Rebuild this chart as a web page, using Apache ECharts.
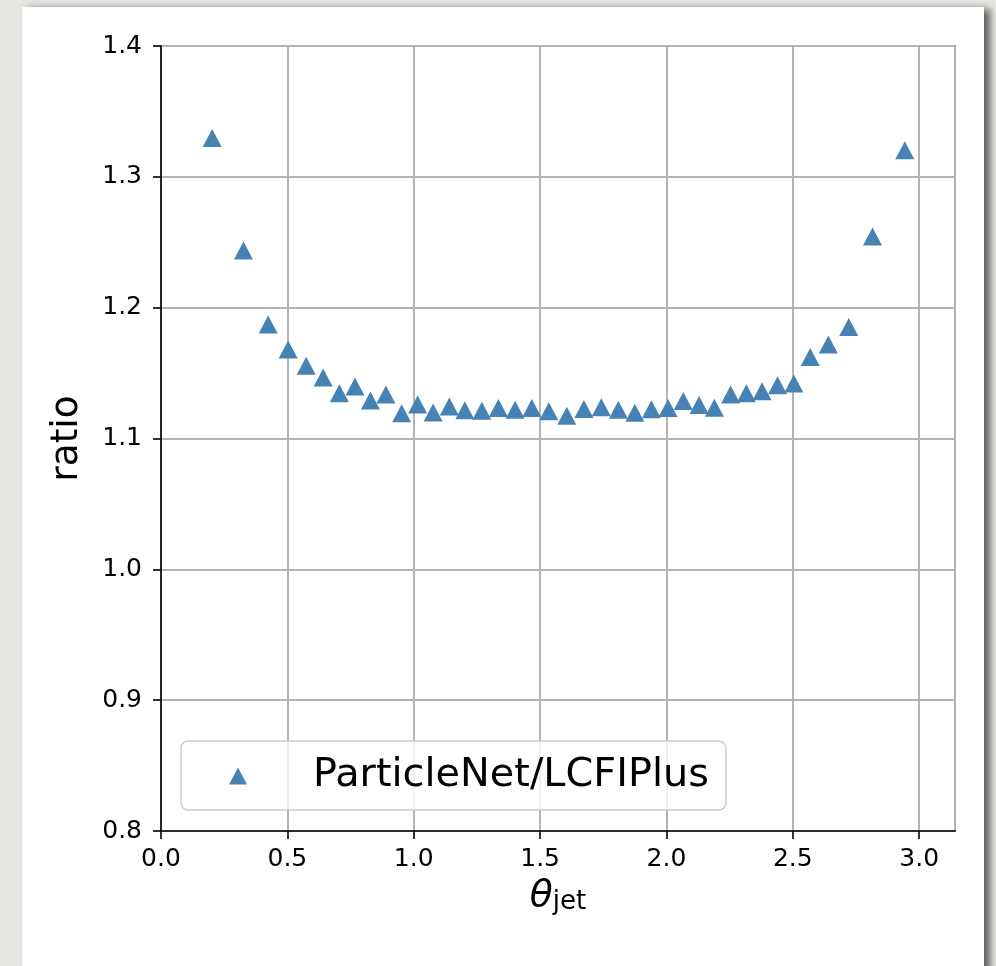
<!DOCTYPE html>
<html>
<head>
<meta charset="utf-8">
<script src="https://cdn.jsdelivr.net/npm/echarts@6/dist/echarts.min.js"></script>
<style>
  html, body { margin: 0; padding: 0; }
  body { width: 996px; height: 966px; background: #e9e7e3; position: relative; overflow: hidden; }
  #card { position: absolute; left: 22px; top: 7px; width: 962px; height: 980px; background: #ffffff;
          box-shadow: 6px 2px 8px rgba(0,0,0,0.6); }
  #chart { position: absolute; left: 0; top: 0; width: 996px; height: 966px; }
</style>
</head>
<body>
<div id="card"></div>
<div id="chart"></div>
<script>
const seriesName = 'ParticleNet/LCFIPlus';
const thetaValues = [0.2025,0.3263,0.4241,0.5032,0.5744,0.6416,0.7057,0.7674,0.8287,0.8900,
  0.9521,1.0154,1.0767,1.1408,1.2021,1.2694,1.3350,1.4011,1.4672,1.5344,
  1.6056,1.6733,1.7421,1.8097,1.8746,1.9403,2.0063,2.0665,2.1290,2.1895,
  2.2536,2.3161,2.3782,2.4395,2.5040,2.5688,2.6404,2.7211,2.8153,2.9430];
const ratioValues = [1.3296,1.2437,1.1872,1.1680,1.1557,1.1467,1.1345,1.1398,1.1290,1.1337,
  1.1193,1.1260,1.1199,1.1245,1.1215,1.1213,1.1233,1.1219,1.1234,1.1209,
  1.1174,1.1226,1.1238,1.1219,1.1197,1.1224,1.1234,1.1287,1.1257,1.1235,
  1.1336,1.1345,1.1362,1.1407,1.1420,1.1623,1.1719,1.1852,1.2543,1.3204];
const xAxisRange = [0, Math.PI];
const yAxisRange = [0.8, 1.4];

const chart = echarts.init(document.getElementById('chart'), null, {renderer: 'canvas'});
const font = 'DejaVu Sans';
const points = thetaValues.map((x, i) => [x, ratioValues[i]]);

chart.setOption({
  backgroundColor: 'transparent',
  animation: false,
  textStyle: { fontFamily: font },
  grid: { left: 161, top: 46, right: 41, bottom: 135, show: true, borderColor: '#000', borderWidth: 1.6, backgroundColor: 'transparent' },
  legend: {
    left: 181, top: 741,
    orient: 'vertical',
    backgroundColor: 'rgba(255,255,255,0.8)',
    borderColor: '#cccccc', borderWidth: 1.5, borderRadius: 7,
    padding: [15, 17, 14, 48],
    itemWidth: 18, itemHeight: 17,
    icon: 'triangle',
    textStyle: { fontFamily: font, fontSize: 39.8, color: '#000', lineHeight: 40, padding: [0, 0, 0, 61] },
    data: [seriesName]
  },
  xAxis: {
    type: 'value', min: xAxisRange[0], max: xAxisRange[1], interval: 0.5,
    name: '{t|θ}{s|jet}', nameLocation: 'middle', nameGap: 33,
    nameTextStyle: {
      rich: {
        t: { fontFamily: font, fontStyle: 'italic', fontSize: 37.5, color: '#000', verticalAlign: 'top', lineHeight: 38, padding: [0, 0, 12, 0] },
        s: { fontFamily: font, fontSize: 26, color: '#000', verticalAlign: 'bottom', lineHeight: 26 }
      }
    },
    axisLine: { show: true, onZero: false, lineStyle: { color: '#000', width: 1.6 } },
    axisTick: { show: true, length: 8, lineStyle: { color: '#000', width: 1.6 } },
    axisLabel: { fontFamily: font, fontSize: 25, color: '#000', margin: 16, showMaxLabel: false,
      formatter: v => v.toFixed(1) },
    splitLine: { show: true, lineStyle: { color: '#b4b4b4', width: 2 } }
  },
  yAxis: {
    type: 'value', min: yAxisRange[0], max: yAxisRange[1], interval: 0.1,
    name: 'ratio', nameLocation: 'middle', nameGap: 75,
    nameTextStyle: { fontFamily: font, fontSize: 37.5, color: '#000' },
    axisLine: { show: true, onZero: false, lineStyle: { color: '#000', width: 1.6 } },
    axisTick: { show: true, length: 8, lineStyle: { color: '#000', width: 1.6 } },
    axisLabel: { fontFamily: font, fontSize: 25, color: '#000', margin: 19,
      formatter: v => v.toFixed(1) },
    splitLine: { show: true, lineStyle: { color: '#b4b4b4', width: 2 } }
  },
  series: [{
    name: seriesName,
    type: 'scatter',
    data: points,
    symbol: 'triangle',
    symbolSize: [19, 18],
    itemStyle: { color: '#4682b4', opacity: 1 }
  }]
});
</script>
</body>
</html>
